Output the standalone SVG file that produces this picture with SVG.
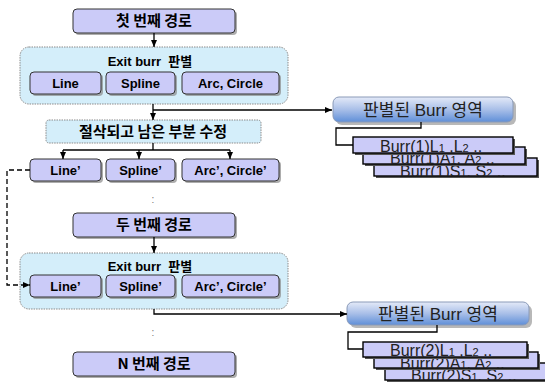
<svg xmlns="http://www.w3.org/2000/svg" width="545" height="385" viewBox="0 0 545 385">
<defs>
<marker id="ah" markerWidth="7" markerHeight="6" refX="7" refY="3" orient="auto" markerUnits="userSpaceOnUse"><path d="M0,0 L7,3 L0,6 z" fill="#000"/></marker>
<linearGradient id="bg" x1="0" y1="0" x2="0" y2="1"><stop offset="0" stop-color="#e4eaf8"/><stop offset="0.5" stop-color="#a9bfe8"/><stop offset="1" stop-color="#5f8fd8"/></linearGradient>
<clipPath id="c1"><rect x="353" y="137" width="160" height="16"/></clipPath>
<clipPath id="c2"><rect x="363" y="147" width="162" height="17"/></clipPath>
<clipPath id="c3"><rect x="374" y="158" width="163" height="18"/></clipPath>
<clipPath id="d1"><rect x="363" y="342" width="164" height="15"/></clipPath>
<clipPath id="d2"><rect x="374" y="352" width="164" height="16"/></clipPath>
<clipPath id="d3"><rect x="385" y="363" width="165" height="17"/></clipPath>
</defs>
<style>
.sh{fill:#8a8a8a;opacity:0.7}
.nb{fill:#cbcbf8;stroke:#333;stroke-width:1}
.pn{fill:#d4eefa;stroke:#8a8a8a;stroke-width:1;stroke-dasharray:1.5 1}
.st{fill:#cbcbf8;stroke:#000;stroke-width:1.4}
.t{font-family:"Liberation Sans","Noto Sans CJK KR",sans-serif;font-weight:bold;font-size:13px;text-anchor:middle;fill:#000}
.k{font-family:"Noto Sans CJK KR","Liberation Sans",sans-serif;font-weight:bold;font-size:15px;text-anchor:middle;fill:#000}
.r{font-family:"Liberation Sans","Noto Sans CJK KR",sans-serif;font-size:17px;text-anchor:middle;fill:#222}
.b{font-family:"Liberation Sans",sans-serif;font-size:16px;fill:#222}
.s{font-size:11px}
.ln{fill:none;stroke:#000;stroke-width:1.3}
.dot{font-family:"Liberation Sans",sans-serif;font-size:10px;fill:#777;text-anchor:middle}
</style>

<g id="path1">
<rect class="sh" x="75" y="11" width="162" height="24" rx="4"/>
<rect class="nb" x="73" y="9" width="162" height="24" rx="4"/>
<text class="k" x="154" y="26">첫 번째 경로</text>
</g>

<g id="panel1">
<rect class="pn" x="20" y="47" width="268" height="57" rx="9"/>
<text class="t" x="150" y="66">Exit burr&#160;&#160;판별</text>
</g>
<g id="line1"><rect class="sh" x="32" y="74" width="71" height="22" rx="4"/><rect class="nb" x="30" y="72" width="71" height="22" rx="4"/><text class="t" x="65.5" y="88">Line</text></g>
<g id="spline1"><rect class="sh" x="108" y="74" width="69" height="22" rx="4"/><rect class="nb" x="106" y="72" width="69" height="22" rx="4"/><text class="t" x="140.5" y="88">Spline</text></g>
<g id="arc1"><rect class="sh" x="184" y="74" width="97" height="22" rx="4"/><rect class="nb" x="182" y="72" width="97" height="22" rx="4"/><text class="t" x="230.5" y="88">Arc, Circle</text></g>

<g id="trim">
<rect class="pn" x="46" y="120" width="215" height="23" rx="3"/>
<text class="k" x="153" y="137">절삭되고 남은 부분 수정</text>
</g>

<g id="line2"><rect class="sh" x="32" y="161" width="71" height="22" rx="4"/><rect class="nb" x="30" y="159" width="71" height="22" rx="4"/><text class="t" x="65.5" y="175">Line’</text></g>
<g id="spline2"><rect class="sh" x="108" y="161" width="69" height="22" rx="4"/><rect class="nb" x="106" y="159" width="69" height="22" rx="4"/><text class="t" x="140.5" y="175">Spline’</text></g>
<g id="arc2"><rect class="sh" x="184" y="161" width="97" height="22" rx="4"/><rect class="nb" x="182" y="159" width="97" height="22" rx="4"/><text class="t" x="230.5" y="175">Arc’, Circle’</text></g>

<text class="dot" x="153" y="203">:</text>

<g id="path2">
<rect class="sh" x="75" y="215" width="162" height="24" rx="4"/>
<rect class="nb" x="73" y="213" width="162" height="24" rx="4"/>
<text class="k" x="154" y="230">두 번째 경로</text>
</g>

<g id="panel2">
<rect class="pn" x="20" y="253" width="268" height="56" rx="9"/>
<text class="t" x="150" y="271">Exit burr&#160;&#160;판별</text>
</g>
<g id="line3"><rect class="sh" x="32" y="277" width="71" height="22" rx="4"/><rect class="nb" x="30" y="275" width="71" height="22" rx="4"/><text class="t" x="65.5" y="291">Line’</text></g>
<g id="spline3"><rect class="sh" x="108" y="277" width="69" height="22" rx="4"/><rect class="nb" x="106" y="275" width="69" height="22" rx="4"/><text class="t" x="140.5" y="291">Spline’</text></g>
<g id="arc3"><rect class="sh" x="184" y="277" width="97" height="22" rx="4"/><rect class="nb" x="182" y="275" width="97" height="22" rx="4"/><text class="t" x="230.5" y="291">Arc’, Circle’</text></g>

<text class="dot" x="153" y="336">:</text>

<g id="pathN">
<rect class="sh" x="75" y="354" width="162" height="24" rx="4"/>
<rect class="nb" x="73" y="352" width="162" height="24" rx="4"/>
<text class="k" x="154" y="369">N 번째 경로</text>
</g>

<g id="burr1">
<rect x="336" y="100" width="180" height="25" rx="6" fill="#9a9a9a" opacity="0.7"/>
<rect x="333" y="97" width="180" height="25" rx="6" fill="url(#bg)" stroke="#8a9ab8" stroke-width="1"/>
<text class="r" x="423" y="116">판별된 Burr 영역</text>
</g>
<g id="burr1list">
<rect x="376" y="160" width="163" height="18" fill="#555"/>
<rect class="st" x="374" y="158" width="163" height="18"/>
<text class="b" x="400" y="177" clip-path="url(#c3)">Burr(1)S<tspan class="s">1</tspan>, S<tspan class="s">2</tspan> ..</text>
<rect x="365" y="149" width="162" height="17" fill="#555"/>
<rect class="st" x="363" y="147" width="162" height="17"/>
<text class="b" x="390" y="164" clip-path="url(#c2)">Burr(1)A<tspan class="s">1</tspan>, A<tspan class="s">2</tspan> ..</text>
<rect x="355" y="139" width="160" height="16" fill="#555"/>
<rect class="st" x="353" y="137" width="160" height="16"/>
<text class="b" x="380" y="152" clip-path="url(#c1)">Burr(1)L<tspan class="s">1</tspan> ,L<tspan class="s">2</tspan> ..</text>
</g>

<g id="burr2">
<rect x="350" y="305" width="182" height="23" rx="6" fill="#9a9a9a" opacity="0.7"/>
<rect x="347" y="302" width="182" height="23" rx="6" fill="url(#bg)" stroke="#8a9ab8" stroke-width="1"/>
<text class="r" x="438" y="320">판별된 Burr 영역</text>
</g>
<g id="burr2list">
<rect x="387" y="365" width="165" height="17" fill="#555"/>
<rect class="st" x="385" y="363" width="165" height="17"/>
<text class="b" x="411" y="381" clip-path="url(#d3)">Burr(2)S<tspan class="s">1</tspan>, S<tspan class="s">2</tspan> ..</text>
<rect x="376" y="354" width="164" height="16" fill="#555"/>
<rect class="st" x="374" y="352" width="164" height="16"/>
<text class="b" x="400" y="369" clip-path="url(#d2)">Burr(2)A<tspan class="s">1</tspan>, A<tspan class="s">2</tspan> ..</text>
<rect x="365" y="344" width="164" height="15" fill="#555"/>
<rect class="st" x="363" y="342" width="164" height="15"/>
<text class="b" x="390" y="356" clip-path="url(#d1)">Burr(2)L<tspan class="s">1</tspan> ,L<tspan class="s">2</tspan> ..</text>
</g>

<g id="connectors">
<path class="ln" d="M154,33 V47" marker-end="url(#ah)"/>
<path class="ln" d="M153,104 V120" marker-end="url(#ah)"/>
<path class="ln" d="M153,110 H332" marker-end="url(#ah)"/>
<path class="ln" d="M153,143 V150"/>
<path class="ln" d="M63,150 H230"/>
<path class="ln" d="M63,150 V159" marker-end="url(#ah)"/>
<path class="ln" d="M139,150 V159" marker-end="url(#ah)"/>
<path class="ln" d="M230,150 V159" marker-end="url(#ah)"/>
<path class="ln" d="M30,170 H7 V285 H30" stroke-dasharray="5 3" marker-end="url(#ah)"/>
<path class="ln" d="M154,237 V253" marker-end="url(#ah)"/>
<path class="ln" d="M154,309 V314 H347" marker-end="url(#ah)"/>
<path class="ln" d="M421,122 V128 H336 V145 H353"/>
<path class="ln" d="M437,325 V332 H348 V349 H363"/>
</g>
</svg>
